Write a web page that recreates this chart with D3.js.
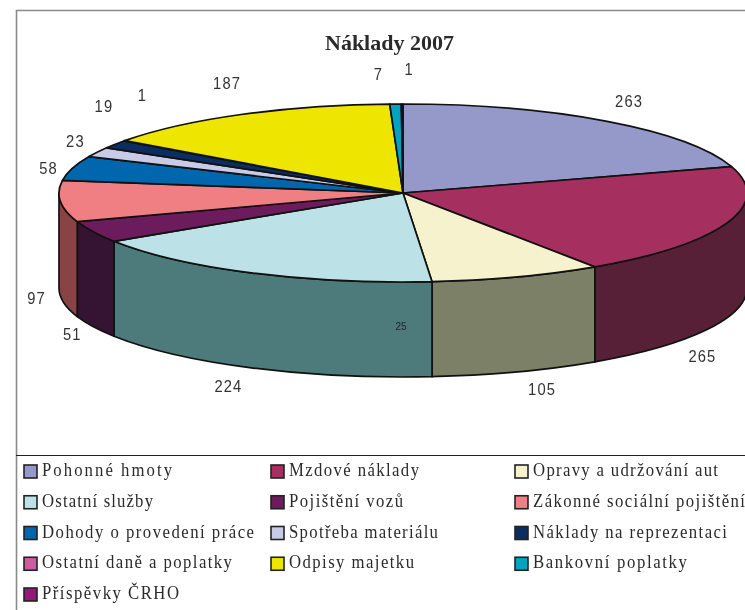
<!DOCTYPE html>
<html lang="cs">
<head>
  <meta charset="UTF-8">
  <title>Náklady 2007</title>
  <script src="https://d3js.org/d3.v7.min.js"></script>
  <style>
    html, body { margin: 0; padding: 0; background: #fff; overflow: hidden; }
    svg { display: block; filter: blur(0.35px); }
  </style>
</head>
<body>
<svg id="chart" width="745" height="610"></svg>
<script>
  const title = "Náklady 2007";
  const categories = ["Pohonné hmoty", "Mzdové náklady", "Opravy a udržování aut", "Ostatní služby",
    "Pojištění vozů", "Zákonné sociální pojištění", "Dohody o provedení práce", "Spotřeba materiálu",
    "Náklady na reprezentaci", "Ostatní daně a poplatky", "Odpisy majetku", "Bankovní poplatky", "Příspěvky ČRHO"];
  const values = [263, 265, 105, 224, 51, 97, 58, 23, 19, 1, 187, 7, 1];
  const topColors = ["#9499c9", "#a53060", "#f6f2cd", "#bce2e8", "#6c1c5c", "#ef7f82", "#0067ae",
    "#c9cae6", "#0b2e60", "#cc5da0", "#eee500", "#00a4c0", "#921a79"];
  const wallColors = ["#4a4c64", "#572036", "#7b8066", "#4d7b7b", "#351433", "#8a4345", "#003357",
    "#646573", "#061730", "#662e50", "#777200", "#005260", "#490d3c"];
  // label offset from the slice edge, the original labels were moved by hand
  const labelNudge = [[22, -21], [-25, 38], [25, 17], [-23, 18], [-21, 7], [-24, 1], [-24, -1],
    [-22, -12], [-11, -39], [18, -46], [-14, -32], [-17, -30], [7, -35]];
  // the legend text is spaced out very unevenly in the original, so fit each one to its width
  const legendWidths = [130, 130, 185, 111, 114, 212, 212, 149, 194, 190, 125, 154, 137];

  const svg = d3.select("#chart");
  const cx = 403, cy = 193, rx = 344, ry = 89, depth = 95;

  const px = a => cx + rx * Math.sin(a);
  const py = a => cy - ry * Math.cos(a);

  // Frame
  svg.append("path").attr("d", "M745,10.5H16.5V610").attr("fill", "none").attr("stroke", "#8a8a8a").attr("stroke-width", 1.6);
  svg.append("line").attr("x1", 16).attr("x2", 745).attr("y1", 455.5).attr("y2", 455.5).attr("stroke", "#222").attr("stroke-width", 1.2);

  // Title
  svg.append("text")
      .attr("x", 389.5).attr("y", 50)
      .attr("text-anchor", "middle")
      .attr("font-family", "'Liberation Serif', serif")
      .attr("font-size", "22px")
      .attr("font-weight", "bold")
      .attr("fill", "#2a2a2a")
      .text(title);

  const pie = d3.pie().sort(null).value(d => d);
  const slices = pie(values);

  // Walls, only the part of the rim that faces us
  const frontStart = Math.PI / 2, frontEnd = Math.PI * 1.5;
  const walls = slices.filter(d => d.endAngle > frontStart && d.startAngle < frontEnd);
  svg.append("g").selectAll("path")
      .data(walls)
      .enter().append("path")
      .attr("fill", d => wallColors[d.index])
      .attr("stroke", "#111")
      .attr("stroke-width", 1.7)
      .attr("stroke-linejoin", "round")
      .attr("d", d => {
        const a0 = Math.max(d.startAngle, frontStart), a1 = Math.min(d.endAngle, frontEnd);
        return `M${px(a0)},${py(a0)}A${rx},${ry} 0 0 1 ${px(a1)},${py(a1)}` +
          `V${py(a1) + depth}A${rx},${ry} 0 0 0 ${px(a0)},${py(a0) + depth}Z`;
      });

  // Top face, a circle squashed to the ellipse
  const arc = d3.arc().innerRadius(0).outerRadius(rx);
  svg.append("g")
      .attr("transform", `translate(${cx},${cy}) scale(1,${ry / rx})`)
      .selectAll("path")
      .data(slices)
      .enter().append("path")
      .attr("d", arc)
      .attr("fill", d => topColors[d.index])
      .attr("stroke", "#111")
      .attr("stroke-width", 1.7)
      .attr("stroke-linejoin", "round")
      .attr("vector-effect", "non-scaling-stroke");

  // Value labels
  const midAngle = d => (d.startAngle + d.endAngle) / 2;
  const isFront = a => a > frontStart && a < frontEnd;
  svg.append("g").selectAll("text")
      .data(slices)
      .enter().append("text")
      .attr("transform", d => {
        const a = midAngle(d);
        const x = px(a) + labelNudge[d.index][0];
        const y = py(a) + (isFront(a) ? depth : 0) + labelNudge[d.index][1];
        return `translate(${x},${y}) scale(0.95,1.12)`;
      })
      .attr("text-anchor", "middle")
      .attr("dominant-baseline", "central")
      .attr("font-family", "'Liberation Sans', sans-serif")
      .attr("font-size", "15.5px")
      .attr("letter-spacing", "1.2px")
      .attr("fill", "#333")
      .text(d => d.data);

  // Stray small label sitting on the front wall
  svg.append("text")
      .attr("x", 401).attr("y", 326)
      .attr("text-anchor", "middle")
      .attr("dominant-baseline", "central")
      .attr("font-family", "'Liberation Sans', sans-serif")
      .attr("font-size", "10px")
      .attr("fill", "#223")
      .text("25");

  // Legend, filled row by row
  const colX = d3.scaleOrdinal().domain([0, 1, 2]).range([24, 271, 515]);
  const rowY = d3.scaleLinear().domain([0, 4]).range([470, 593]);
  const legend = svg.append("g").selectAll("g")
      .data(categories)
      .enter().append("g")
      .attr("transform", (d, i) => `translate(${colX(i % 3)},${rowY(Math.floor(i / 3))})`);

  legend.append("rect")
      .attr("x", 0).attr("y", -5)
      .attr("width", 13).attr("height", 13)
      .attr("fill", (d, i) => topColors[i])
      .attr("stroke", "#222")
      .attr("stroke-width", 1.6);

  const xStretch = 1.08;
  legend.append("text")
      .attr("transform", `translate(18,6) scale(${xStretch},1.25)`)
      .attr("font-family", "'Liberation Serif', serif")
      .attr("font-size", "15.5px")
      .attr("textLength", (d, i) => legendWidths[i] / xStretch)
      .attr("fill", "#2a2a2a")
      .text(d => d);
</script>
</body>
</html>
